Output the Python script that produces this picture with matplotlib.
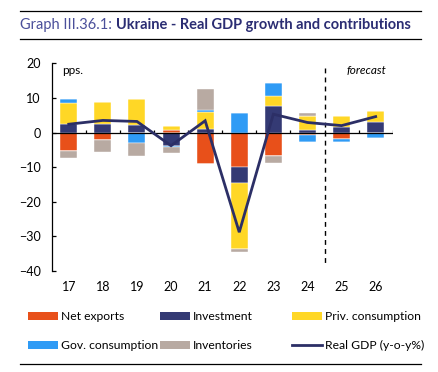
import matplotlib
matplotlib.use("Agg")
import matplotlib.pyplot as plt
from matplotlib.patches import Patch
from matplotlib.lines import Line2D
import numpy as np

plt.rcParams['font.family'] = ['Lato', 'DejaVu Sans']

years = ['17', '18', '19', '20', '21', '22', '23', '24', '25', '26']
net_exports = [-5.3, -2.2, 0.0, 0.6, -9.1, -10.1, -6.7, -0.8, -2.0, -0.2]
investment = [2.4, 2.6, 2.2, -3.9, 1.0, -4.4, 7.7, 0.8, 1.7, 3.0]
priv_cons = [6.2, 6.2, 7.6, 1.3, 5.0, -19.2, 2.9, 4.1, 3.2, 3.3]
gov_cons = [1.0, 0.0, -2.9, -0.2, 0.4, 5.5, 3.6, -1.9, -0.6, -1.5]
inventories = [-2.1, -3.4, -3.9, -1.8, 6.2, -0.9, -2.2, 0.8, 0.0, 0.0]
real_gdp = [2.4, 3.5, 3.2, -3.8, 3.4, -28.8, 5.3, 2.9, 2.0, 4.6]

series = [
    ('Net exports', net_exports, '#e8501a'),
    ('Investment', investment, '#343a74'),
    ('Priv. consumption', priv_cons, '#ffd726'),
    ('Gov. consumption', gov_cons, '#2f9bf5'),
    ('Inventories', inventories, '#b8aaa2'),
]
line_color = '#2c2f66'

W, H = 438, 372
fig = plt.figure(figsize=(W / 100, H / 100), dpi=100)
ax = fig.add_axes([51.7 / W, 1 - 271 / H, (392.7 - 51.7) / W, (271 - 63.3) / H])

x = np.arange(len(years))
pos = np.zeros(len(years))
neg = np.zeros(len(years))
for name, vals, col in series:
    v = np.array(vals, dtype=float)
    p = np.where(v > 0, v, 0)
    n = np.where(v < 0, v, 0)
    ax.bar(x, p, 0.5, bottom=pos, color=col, edgecolor='white', linewidth=0.3, zorder=2)
    ax.bar(x, n, 0.5, bottom=neg, color=col, edgecolor='white', linewidth=0.3, zorder=2)
    pos += p
    neg += n

ax.plot(x, real_gdp, color=line_color, lw=2.0, zorder=4, solid_joinstyle='miter')

ax.set_xlim(-0.5, len(years) - 0.5)
ax.set_ylim(-40, 20)
ax.axhline(0, color='black', lw=0.9, zorder=3)
ax.vlines(np.arange(len(years)) + 0.5, 0, 0.8, color='black', lw=0.9, zorder=3)
ax.axvline(7.5, ymin=(18.5 + 40) / 60, ymax=(-38 + 40) / 60, color='black', lw=1.0,
           linestyle=(0, (3.5, 3)), zorder=3)

for s in ['top', 'right', 'bottom']:
    ax.spines[s].set_visible(False)
ax.spines['left'].set_linewidth(0.9)
ax.set_yticks(np.arange(-40, 21, 10))
ax.set_xticks(x)
ax.set_xticklabels(years)
ax.tick_params(axis='y', direction='in', length=3, width=0.9, pad=8, labelsize=9)
ax.tick_params(axis='x', length=0, pad=7.5, labelsize=9)

ax.text(-0.18, 19.5, 'pps.', fontsize=8.5, va='top', ha='left')
ax.text(9.32, 19.5, 'forecast', fontsize=8.5, style='italic', va='top', ha='right')

# Title rules
fig.add_artist(Line2D([20 / W, 421 / W], [1 - 11 / H, 1 - 11 / H], color='black', lw=0.9))
fig.add_artist(Line2D([20 / W, 421 / W], [1 - 39 / H, 1 - 39 / H], color='black', lw=0.9))
fig.add_artist(Line2D([20 / W, 421 / W], [1 - 364 / H, 1 - 364 / H], color='black', lw=0.9))

t1 = fig.text(20.5 / W, 1 - 25.5 / H, 'Graph III.36.1: ', fontsize=10.5, color='#4a4f9a',
              va='center', ha='left')
fig.canvas.draw()
bb = t1.get_window_extent(renderer=fig.canvas.get_renderer())
fig.text(bb.x1 / W, 1 - 25.5 / H, 'Ukraine - Real GDP growth and contributions',
         fontsize=10.5, color='#2b2d73', fontweight='bold', va='center', ha='left')

handles = [Patch(facecolor=c, edgecolor='none') for _, _, c in series]
handles.append(Line2D([0], [0], color=line_color, lw=2))
labels = [n for n, _, _ in series] + ['Real GDP (y-o-y%)']

cols = [(0, 3), (1, 4), (2, 5)]
xs = [28, 160, 292]
for (i, j), xx in zip(cols, xs):
    leg = fig.legend([handles[i], handles[j]], [labels[i], labels[j]],
                     loc='upper left', bbox_to_anchor=(xx / W, 1 - 311 / H),
                     frameon=False, fontsize=8.7, handlelength=2.45, handleheight=0.6,
                     handletextpad=0.3, labelspacing=1.5, borderpad=0, borderaxespad=0)

fig.savefig('out.png', dpi=100)
